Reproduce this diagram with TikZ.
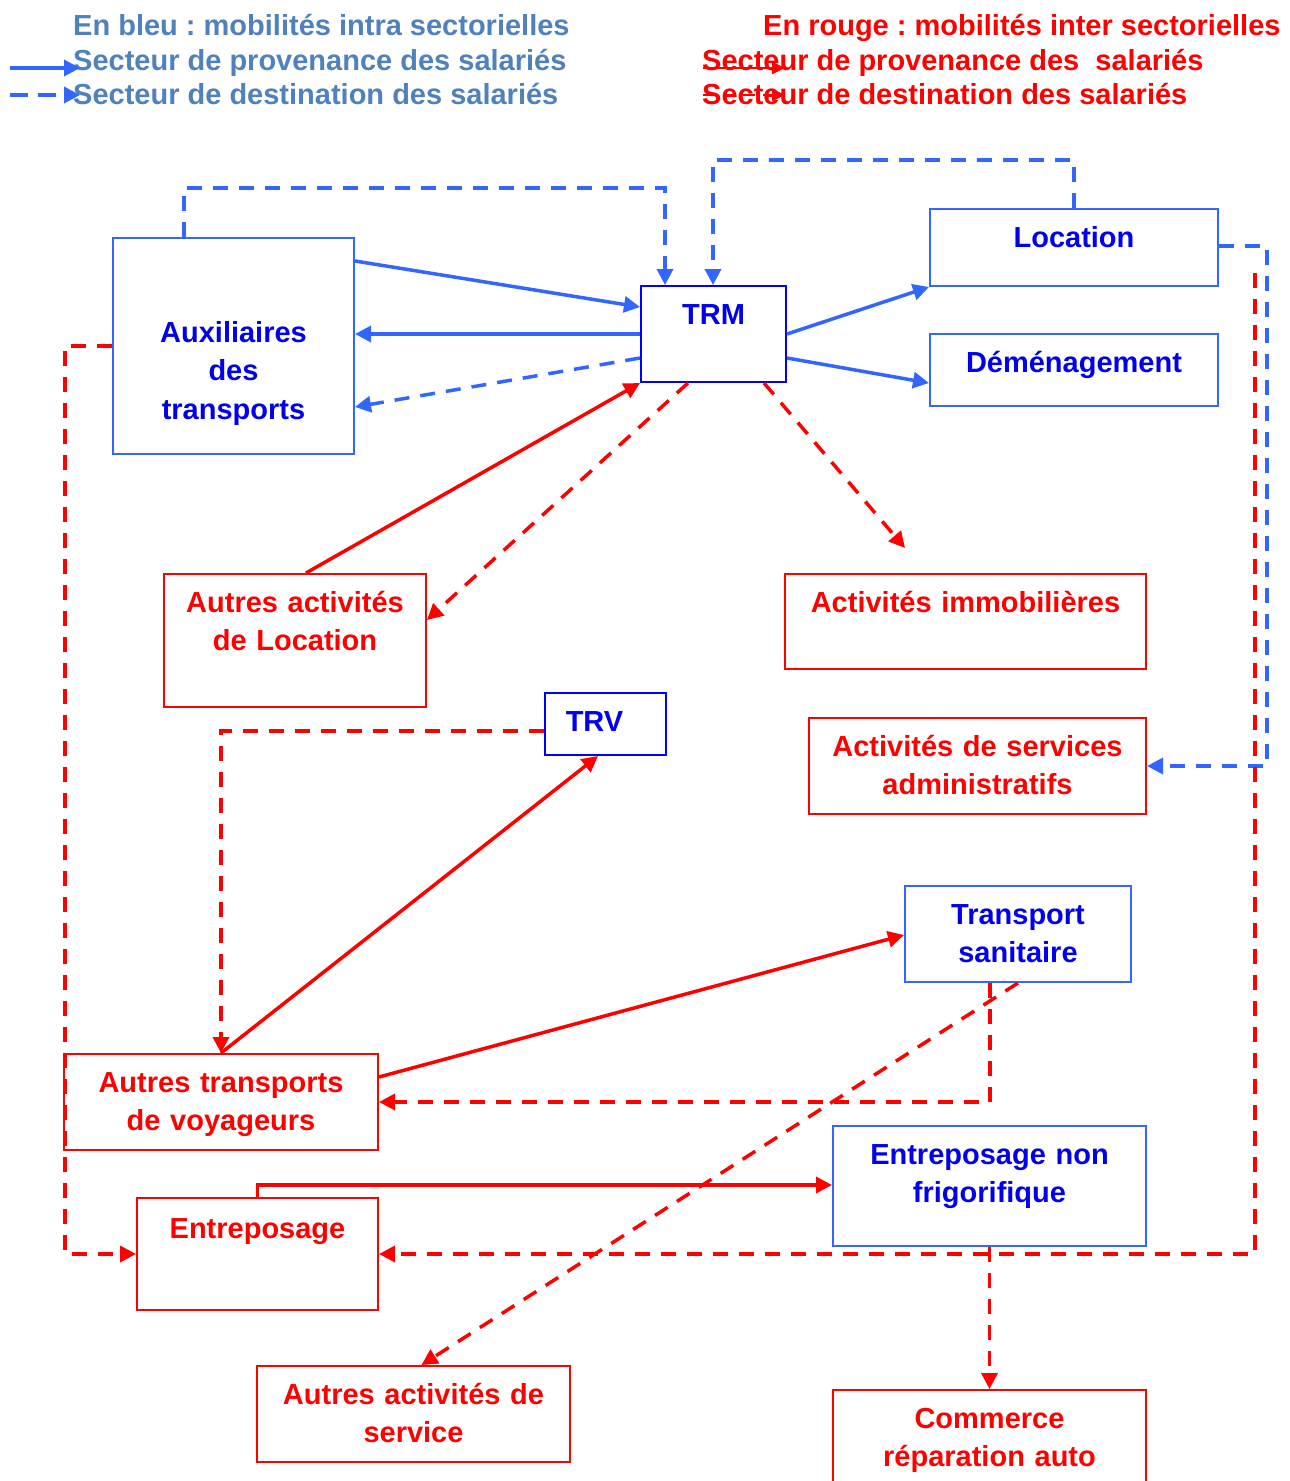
\documentclass[tikz,border=0pt]{standalone}
\usepackage{fontspec}
\setmainfont{Liberation Sans}
\usepackage{xcolor}
\usepackage{tikz}
\usetikzlibrary{arrows.meta, positioning}
\definecolor{bleuvif}{RGB}{51,102,255}
\definecolor{bleufonce}{RGB}{0,0,255}
\definecolor{bleutexte}{RGB}{0,0,238}
\definecolor{bleulegende}{RGB}{79,129,189}
\definecolor{rouge}{RGB}{255,0,0}
\frenchspacing
\tikzset{
  secteur/.style={rectangle, draw=bleuvif, line width=2pt, inner sep=0pt,
                  anchor=north west, align=center, text height=38pt,
                  font=\fontsize{29}{38.5}\selectfont\bfseries, text=bleutexte},
  inter/.style={secteur, draw=rouge, text=rouge},
  fleche/.style={-{Triangle[length=16pt, width=16pt]}, line width=3.5pt},
  bleue/.style={fleche, draw=bleuvif},
  rougef/.style={fleche, draw=rouge},
  tirets/.style={dash pattern=on 15pt off 11pt},
  legende/.style={anchor=base west, inner sep=0pt,
                  font=\fontsize{29}{34}\selectfont\bfseries},
}

\begin{document}
\begin{tikzpicture}[x=1pt, y=-1pt]
  \useasboundingbox (0,0) rectangle (1290,1481);

  % Legend
  \node[legende, text=bleulegende] (titrebleu) at (73,35) {En bleu : mobilités intra sectorielles};
  \node[legende, text=bleulegende] (provbleu) at (73,70) {Secteur de provenance des salariés};
  \node[legende, text=bleulegende] (destbleu) at (73,104) {Secteur de destination des salariés};
  \node[legende, text=rouge] (titrerouge) at (763,35) {En rouge : mobilités inter sectorielles};
  \node[legende, text=rouge] (provrouge) at (702,70) {Secteur de provenance des~ salariés};
  \node[legende, text=rouge] (destrouge) at (702,104) {Secteur de destination des salariés};

  \coordinate (lbA) at (10,68);  \coordinate (lbB) at (80,68);
  \coordinate (lbC) at (10,95);  \coordinate (lbD) at (80,95);
  \coordinate (lrA) at (703,68); \coordinate (lrB) at (785,68);
  \coordinate (lrC) at (703,95); \coordinate (lrD) at (785,95);
  \draw[bleue] (lbA) -- (lbB);
  \draw[bleue, dash pattern=on 18pt off 10pt] (lbC) -- (lbD);
  \draw[rougef, line width=2.5pt, -{Triangle[length=13pt, width=12pt]}] (lrA) -- (lrB);
  \draw[rougef, line width=2.5pt, dash pattern=on 12pt off 8pt, -{Triangle[length=13pt, width=12pt]}] (lrC) -- (lrD);

  % Nodes
  \node[secteur, text width=241pt, text height=104pt, text depth=112pt] (aux) at (112,237) {Auxiliaires\\des\\transports};
  \node[secteur, draw=bleufonce, text width=145pt, text depth=58pt] (trm) at (640,285) {TRM};
  \node[secteur, text width=288pt, text depth=39pt] (location) at (929,208) {Location};
  \node[secteur, text width=288pt, text depth=34pt] (demenag) at (929,333) {Déménagement};
  \node[inter, text width=262pt, text depth=95pt] (autrelocation) at (163,573) {Autres activités\\de Location};
  \node[inter, text width=361pt, text depth=57pt] (immo) at (784,573) {Activités immobilières};
  \node[secteur, draw=bleufonce, text width=121pt, text depth=24pt] (trv) at (544,692) {\hspace*{-22pt}TRV};
  \node[inter, text width=337pt, text depth=58pt] (admin) at (808,717) {Activités de services\\administratifs};
  \node[secteur, text width=226pt, text depth=58pt] (sanitaire) at (904,885) {Transport\\sanitaire};
  \node[inter, text width=314pt, text depth=58pt] (voyageurs) at (63,1053) {Autres transports\\de voyageurs};
  \node[secteur, text width=313pt, text depth=82pt] (nonfrigo) at (832,1125) {Entreposage non\\frigorifique};
  \node[inter, text width=241pt, text height=40pt, text depth=72pt] (entrepot) at (136,1197) {Entreposage};
  \node[inter, text width=313pt, text depth=58pt] (service) at (256,1365) {Autres activités de\\service};
  \node[inter, text width=313pt, text depth=62pt] (commerce) at (832,1389) {Commerce\\réparation auto};

  \coordinate (immofin) at ([xshift=121pt, yshift=25pt]immo.north west);
  \coordinate (locsortie) at ([xshift=36pt, yshift=-65pt]location.north east);

  % Edges intra (blue)
  \draw[bleue] ([yshift=-24pt]aux.north east) -- ([yshift=-22pt]trm.north west);
  \draw[bleue] (trm.west) -- (trm.west -| aux.east);
  \draw[bleue] (trm.east) -- (location.south west);
  \draw[bleue] ([yshift=-24pt]trm.east) -- ([yshift=24pt]demenag.south west);
  \draw[bleue, tirets] ([yshift=-24pt]trm.west) -- ([yshift=48pt]aux.south east);
  \draw[bleue, tirets] ([xshift=72pt]aux.north west) -- ++(0,-49) -| ([xshift=25pt]trm.north west);
  \draw[bleue, tirets] (location.north) -- ++(0,-48) -| ([xshift=73pt]trm.north west);
  \draw[bleue, tirets] ([yshift=-38pt]location.north east) -- ++(48,0) |- (admin.east);

  % Edges inter (red)
  \draw[rougef] ([xshift=11pt]autrelocation.north) -- (trm.south west);
  \draw[rougef] (voyageurs.north) -- ([xshift=54pt]trv.south west);
  \draw[rougef] ([yshift=-24pt]voyageurs.north east) -- ([yshift=-50pt]sanitaire.north west);
  \draw[rougef] (entrepot.north) |- ([yshift=-60pt]nonfrigo.north west);
  \draw[rougef, tirets] ([xshift=48pt]trm.south west) -- ([yshift=-47pt]autrelocation.north east);
  \draw[rougef, tirets] ([xshift=-23pt]trm.south east) -- (immofin);
  \draw[rougef, tirets] (aux.west) -- ++(-47,0) |- (entrepot.west);
  \draw[rougef, tirets] ([yshift=-7pt]trv.west) -| (voyageurs.north);
  \draw[rougef, tirets] ([xshift=-28pt]sanitaire.south) |- (voyageurs.east);
  \draw[rougef, tirets] (sanitaire.south) -- ([xshift=8pt]service.north);
  \draw[rougef, tirets] (locsortie) |- (entrepot.east);
  \draw[rougef, tirets] (nonfrigo.south) -- (commerce.north);

\end{tikzpicture}
\end{document}
